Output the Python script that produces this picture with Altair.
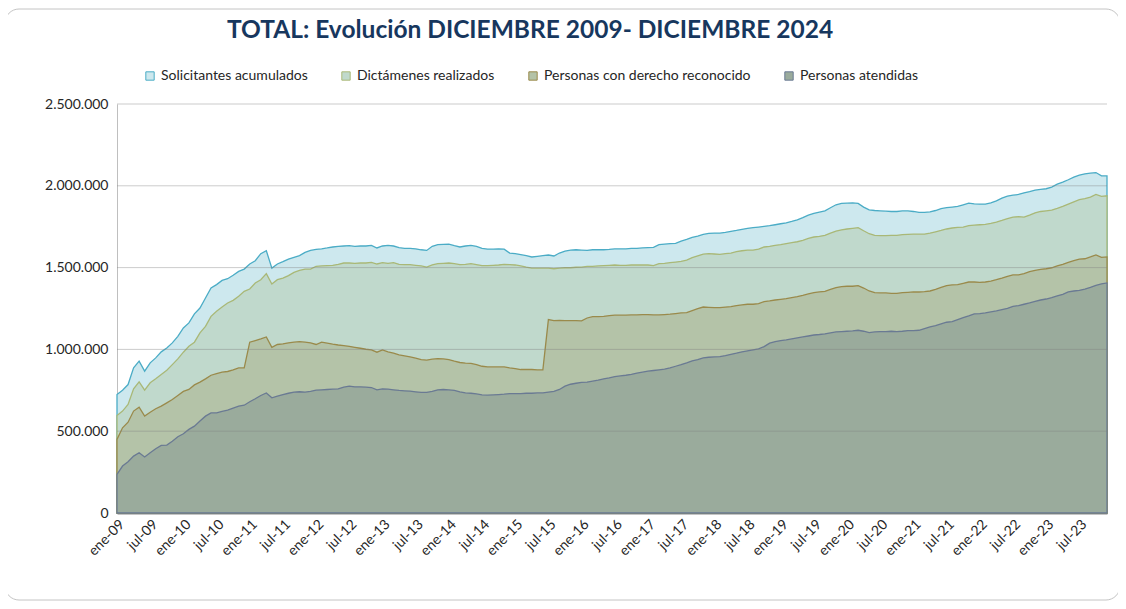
import altair as alt
import pandas as pd

# ---------------- data (values in thousands) ----------------
meses = ["ene", "feb", "mar", "abr", "may", "jun", "jul", "ago", "sep", "oct", "nov", "dic"]
periodos = [f"{m}-{a:02d}" for a in range(9, 24) for m in meses]
etiquetas_x = periodos[::6]

series = ["Solicitantes acumulados", "Dictámenes realizados",
          "Personas con derecho reconocido", "Personas atendidas"]

solicitantes = [
    724, 750, 785, 887, 928, 867, 918, 948, 985, 1009, 1040, 1080,
    1131, 1162, 1217, 1253, 1314, 1375, 1396, 1422, 1432, 1453, 1477, 1491,
    1522, 1542, 1585, 1603, 1497, 1522, 1536, 1552, 1563, 1573, 1593, 1605,
    1611, 1615, 1620, 1626, 1630, 1632, 1634, 1630, 1632, 1632, 1636, 1620,
    1632, 1636, 1632, 1622, 1618, 1618, 1615, 1609, 1605, 1630, 1640, 1642,
    1644, 1634, 1626, 1632, 1636, 1630, 1618, 1613, 1613, 1615, 1613, 1589,
    1585, 1579, 1573, 1565, 1569, 1573, 1577, 1571, 1589, 1601, 1607, 1609,
    1607, 1605, 1609, 1609, 1609, 1611, 1615, 1615, 1615, 1618, 1618, 1620,
    1622, 1624, 1640, 1644, 1646, 1648, 1662, 1672, 1685, 1693, 1703, 1709,
    1711, 1711, 1715, 1721, 1727, 1734, 1740, 1744, 1748, 1752, 1756, 1762,
    1768, 1774, 1782, 1792, 1805, 1821, 1831, 1839, 1847, 1866, 1884, 1892,
    1894, 1896, 1892, 1870, 1853, 1849, 1847, 1845, 1843, 1843, 1847, 1847,
    1843, 1837, 1837, 1841, 1849, 1860, 1866, 1870, 1874, 1884, 1894, 1890,
    1888, 1888, 1896, 1908, 1925, 1937, 1943, 1947, 1957, 1965, 1974, 1978,
    1982, 1992, 2010, 2022, 2037, 2053, 2065, 2073, 2077, 2081, 2061, 2061,
]
dictamenes = [
    596, 623, 663, 759, 802, 751, 796, 820, 846, 873, 907, 942,
    983, 1019, 1044, 1101, 1141, 1202, 1233, 1259, 1284, 1300, 1325, 1355,
    1369, 1406, 1426, 1463, 1400, 1426, 1436, 1451, 1471, 1483, 1491, 1491,
    1508, 1510, 1512, 1514, 1520, 1528, 1528, 1526, 1528, 1528, 1532, 1522,
    1530, 1526, 1530, 1520, 1518, 1518, 1514, 1510, 1503, 1516, 1524, 1526,
    1528, 1524, 1518, 1520, 1524, 1518, 1512, 1512, 1514, 1516, 1520, 1518,
    1516, 1510, 1503, 1497, 1497, 1497, 1497, 1493, 1497, 1499, 1499, 1502,
    1503, 1508, 1508, 1510, 1512, 1514, 1516, 1514, 1514, 1516, 1516, 1516,
    1516, 1512, 1524, 1526, 1530, 1534, 1538, 1546, 1561, 1572, 1583, 1585,
    1583, 1581, 1585, 1589, 1597, 1603, 1607, 1607, 1613, 1626, 1630, 1636,
    1640, 1646, 1652, 1658, 1666, 1678, 1687, 1691, 1697, 1711, 1723, 1731,
    1736, 1740, 1744, 1725, 1707, 1697, 1695, 1695, 1697, 1697, 1701, 1703,
    1705, 1705, 1705, 1711, 1719, 1727, 1736, 1742, 1746, 1748, 1756, 1760,
    1762, 1764, 1770, 1778, 1788, 1799, 1809, 1811, 1809, 1821, 1835, 1843,
    1847, 1851, 1862, 1874, 1888, 1902, 1915, 1921, 1931, 1947, 1935, 1939,
]
derecho = [
    450, 521, 555, 623, 647, 592, 616, 637, 653, 673, 694, 718,
    743, 755, 783, 800, 820, 842, 852, 861, 865, 875, 887, 887,
    1044, 1054, 1064, 1076, 1013, 1030, 1034, 1040, 1044, 1048, 1044, 1040,
    1030, 1044, 1038, 1032, 1027, 1023, 1019, 1013, 1007, 1001, 997, 983,
    997, 985, 977, 966, 960, 954, 946, 938, 934, 940, 944, 942,
    938, 928, 920, 916, 914, 907, 897, 893, 893, 893, 893, 887,
    883, 877, 877, 877, 875, 875, 1182, 1176, 1178, 1176, 1176, 1176,
    1174, 1192, 1200, 1200, 1202, 1206, 1209, 1209, 1209, 1211, 1211, 1213,
    1213, 1211, 1211, 1213, 1215, 1219, 1223, 1225, 1237, 1249, 1259, 1257,
    1255, 1255, 1259, 1261, 1267, 1272, 1276, 1276, 1280, 1292, 1296, 1302,
    1306, 1310, 1316, 1322, 1330, 1339, 1347, 1351, 1355, 1367, 1377, 1384,
    1386, 1386, 1390, 1375, 1357, 1347, 1345, 1345, 1343, 1343, 1347, 1349,
    1351, 1351, 1353, 1357, 1367, 1379, 1390, 1394, 1396, 1404, 1412, 1412,
    1410, 1412, 1418, 1426, 1436, 1447, 1455, 1455, 1463, 1475, 1483, 1489,
    1493, 1499, 1510, 1520, 1532, 1542, 1552, 1554, 1565, 1577, 1563, 1565,
]
atendidas = [
    236, 287, 313, 348, 368, 342, 368, 393, 413, 415, 439, 466,
    484, 511, 531, 562, 592, 612, 612, 621, 629, 641, 653, 659,
    680, 698, 718, 734, 704, 714, 724, 732, 739, 741, 739, 743,
    751, 753, 755, 757, 759, 769, 775, 771, 771, 769, 767, 753,
    759, 757, 753, 749, 747, 745, 741, 737, 737, 743, 753, 755,
    753, 749, 741, 734, 732, 728, 722, 720, 722, 724, 726, 730,
    730, 730, 732, 732, 734, 734, 739, 743, 755, 775, 787, 793,
    798, 800, 806, 812, 820, 826, 834, 838, 842, 848, 855, 861,
    867, 871, 875, 879, 887, 897, 907, 918, 930, 937, 948, 952,
    954, 956, 962, 970, 977, 985, 991, 997, 1003, 1017, 1038, 1048,
    1054, 1058, 1064, 1070, 1076, 1082, 1088, 1091, 1095, 1101, 1107, 1109,
    1111, 1113, 1117, 1111, 1103, 1107, 1109, 1109, 1111, 1109, 1111, 1115,
    1115, 1117, 1127, 1137, 1145, 1156, 1166, 1170, 1182, 1194, 1205, 1217,
    1219, 1223, 1229, 1235, 1243, 1251, 1263, 1268, 1276, 1284, 1294, 1302,
    1308, 1316, 1327, 1337, 1351, 1357, 1361, 1369, 1379, 1392, 1400, 1406,
]

y_ticks = [0, 500000, 1000000, 1500000, 2000000, 2500000]

fill_colors = ["#cde8ee", "#c0d9cc", "#b4c3a8", "#9aab9c"]
line_colors = ["#4bacc6", "#a9b877", "#9a8a4b", "#6a7a93"]

rows = []
for nombre, vals in zip(series, [solicitantes, dictamenes, derecho, atendidas]):
    for p, v in zip(periodos, vals):
        rows.append({"periodo": p, "serie": nombre, "valor": v * 1000})
df = pd.DataFrame(rows)

FONT = "Lato"
FS = 14

x_enc = alt.X(
    "periodo:O",
    sort=periodos,
    scale=alt.Scale(type="point", padding=0),
    axis=alt.Axis(
        values=etiquetas_x, labelAngle=-45, labelFontSize=FS, labelFont=FONT,
        labelColor="#262626", ticks=False, domainColor="#8a8a8a", domainWidth=2,
        labelPadding=4, title=None, grid=False,
    ),
)
y_axis = alt.Axis(
    values=y_ticks, grid=False, ticks=False, domainColor="#bfbfbf",
    labelFontSize=FS, labelFont=FONT, labelColor="#262626", labelPadding=9,
    title=None,
    labelExpr="replace(replace(format(datum.value, ','), ',', '.'), ',', '.')",
)
y_scale = alt.Scale(domain=[0, 2500000], nice=False)
y_enc = alt.Y("valor:Q", stack=None, scale=y_scale, axis=y_axis)

legend = alt.Legend(
    title=None, orient="none", direction="horizontal", legendX=26, legendY=-35,
    symbolType="square", symbolSize=70, symbolStrokeWidth=1, labelFontSize=FS,
    labelFont=FONT, labelColor="#262626", columnPadding=31, labelOffset=4,
    labelLimit=400,
)
fill_enc = alt.Fill("serie:N", scale=alt.Scale(domain=series, range=fill_colors),
                    sort=series, legend=legend)
stroke_enc = alt.Stroke("serie:N", scale=alt.Scale(domain=series, range=line_colors),
                        sort=series, legend=legend)

base = alt.Chart(df)
areas = [
    base.transform_filter(alt.datum.serie == s)
    .mark_area(strokeWidth=1.3, fillOpacity=1)
    .encode(x=x_enc, y=y_enc, fill=fill_enc, stroke=stroke_enc)
    for s in series
]

grid = alt.Chart(pd.DataFrame({"valor": y_ticks[1:]})).mark_rule(
    color="#7f7f7f", opacity=0.4, strokeWidth=1
).encode(y=alt.Y("valor:Q", scale=y_scale, axis=y_axis))

frame = alt.Chart(pd.DataFrame({"k": [0]})).mark_rect(
    fillOpacity=0, stroke="#c4c4c4", strokeWidth=1, cornerRadius=14
).encode(x=alt.value(-112), x2=alt.value(1003), y=alt.value(-95), y2=alt.value(496))

chart = alt.layer(frame, *areas, grid).properties(
    width=990,
    height=409,
    autosize=alt.AutoSizeParams(type="none"),
    padding={"left": 109, "top": 96, "right": 11, "bottom": 88},
    title=alt.TitleParams(
        "TOTAL: Evolución DICIEMBRE 2009- DICIEMBRE 2024",
        font=FONT, fontSize=24.5, fontWeight="bold", color="#17375e",
        anchor="middle", dx=-82, offset=-35,
    ),
).configure_view(stroke=None)

chart.save("out.html", embed_options={"renderer": "svg", "actions": False})
